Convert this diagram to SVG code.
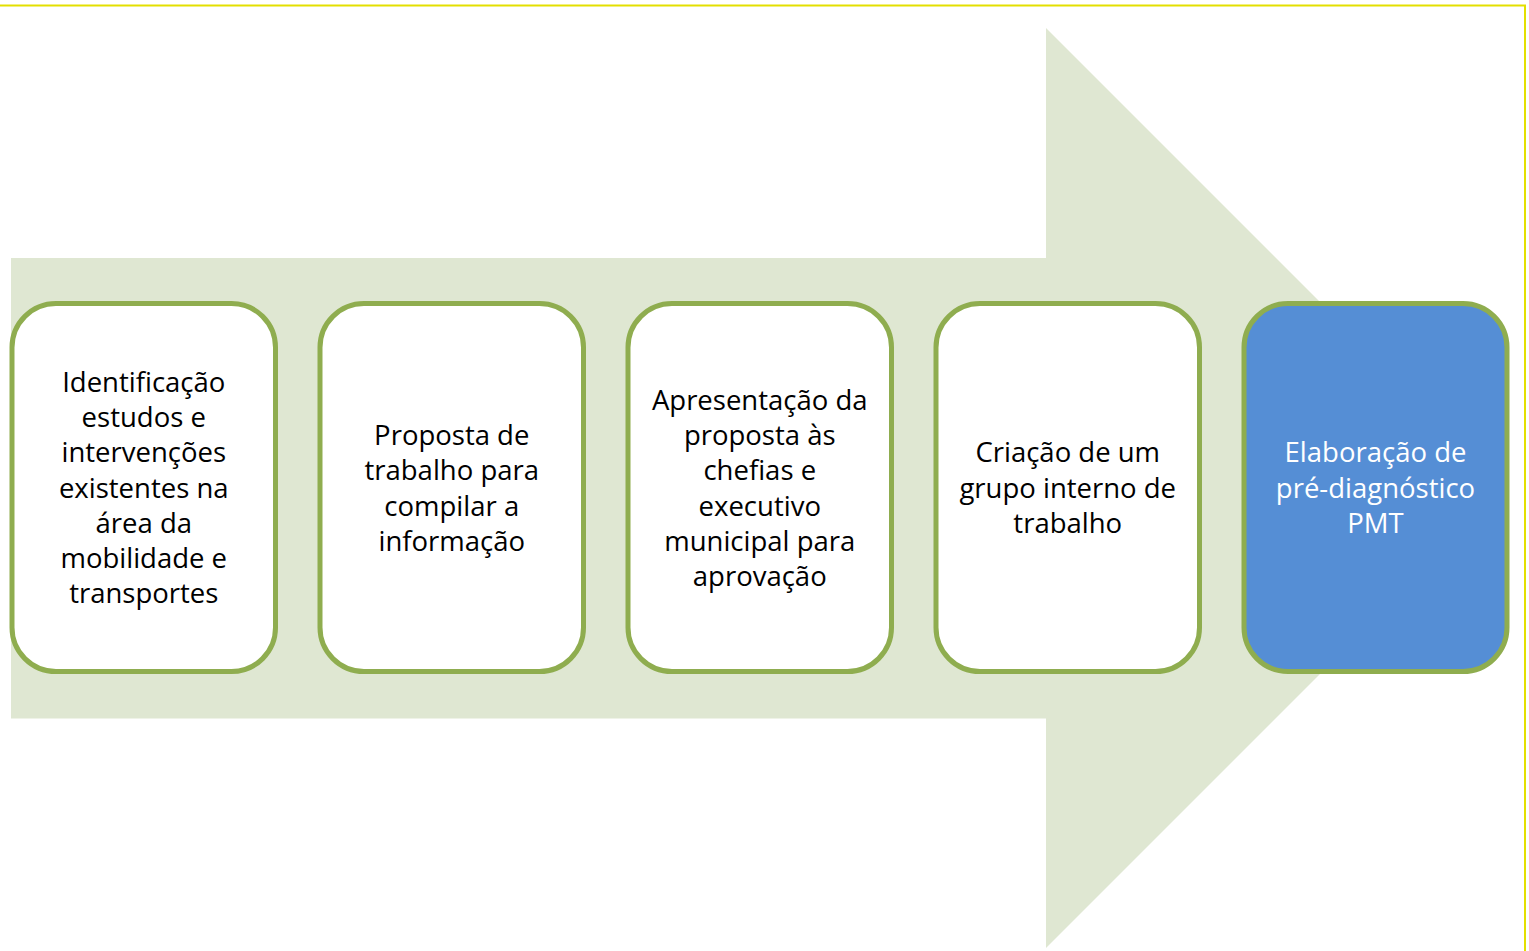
<svg xmlns="http://www.w3.org/2000/svg" width="1529" height="951" viewBox="0 0 1529 951">
<style>
.box{fill:#ffffff;stroke:#8fad4f;stroke-width:5}
.hl{fill:#558ed5}
text{font-family:"Open Sans","Liberation Sans",sans-serif;font-size:27.5px;text-anchor:middle;fill:#000000}
.w{fill:#ffffff}
</style>
<rect width="1529" height="951" fill="#ffffff"/>
<polyline points="0,5.5 1525,5.5 1525,951" fill="none" stroke="#e3df00" stroke-width="2"/>
<g id="arrow">
<polygon points="11,258 1046,258 1046,28 1506,488 1046,948 1046,718.5 11,718.5" fill="#dfe7d2"/>
</g>
<g id="connectors"></g>
<g id="node1">
<rect class="box" x="12" y="303.5" width="263.5" height="368" rx="44" ry="44"/>
<text x="143.75" y="392">Identificação</text>
<text x="143.75" y="427">estudos e</text>
<text x="143.75" y="462">intervenções</text>
<text x="143.75" y="497.5">existentes na</text>
<text x="143.75" y="532.5">área da</text>
<text x="143.75" y="567.5">mobilidade e</text>
<text x="143.75" y="603">transportes</text>
</g>
<g id="node2">
<rect class="box" x="320" y="303.5" width="263.5" height="368" rx="44" ry="44"/>
<text x="451.75" y="445">Proposta de</text>
<text x="451.75" y="480">trabalho para</text>
<text x="451.75" y="515.5">compilar a</text>
<text x="451.75" y="550.5">informação</text>
</g>
<g id="node3">
<rect class="box" x="628" y="303.5" width="263.5" height="368" rx="44" ry="44"/>
<text x="759.75" y="409.5">Apresentação da</text>
<text x="759.75" y="445">proposta às</text>
<text x="759.75" y="480">chefias e</text>
<text x="759.75" y="515.5">executivo</text>
<text x="759.75" y="550.5">municipal para</text>
<text x="759.75" y="585.5">aprovação</text>
</g>
<g id="node4">
<rect class="box" x="936" y="303.5" width="263.5" height="368" rx="44" ry="44"/>
<text x="1067.75" y="462">Criação de um</text>
<text x="1067.75" y="497.5">grupo interno de</text>
<text x="1067.75" y="532.5">trabalho</text>
</g>
<g id="node5">
<rect class="box hl" x="1244" y="303.5" width="263" height="368" rx="44" ry="44"/>
<text class="w" x="1375.5" y="462">Elaboração de</text>
<text class="w" x="1375.5" y="497.5">pré-diagnóstico</text>
<text class="w" x="1375.5" y="532.5">PMT</text>
</g>
</svg>
